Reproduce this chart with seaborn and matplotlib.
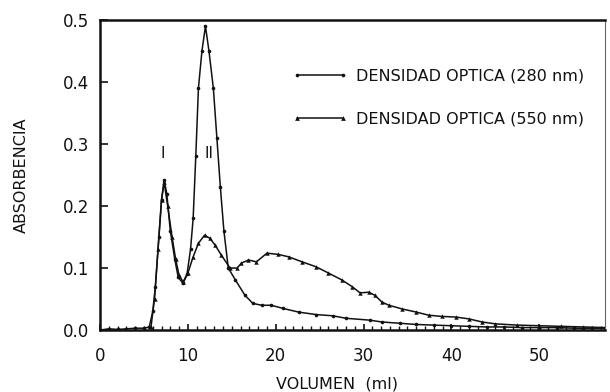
import matplotlib
matplotlib.use("Agg")
import matplotlib.pyplot as plt
import seaborn as sns
import pandas as pd
from matplotlib.lines import Line2D

# Elution profile: absorbance vs. eluted volume
vol_280 = [0, 1, 2, 3, 4, 5, 5.6, 6.0, 6.3, 6.7, 7.0, 7.3, 7.6, 8.0, 8.5, 8.9,
           9.4, 9.9, 10.3, 10.6, 10.9, 11.2, 11.6, 12.0, 12.4, 12.9, 13.3, 13.7,
           14.1, 14.6, 15.4, 16.5, 17.4, 18.4, 19.5, 20.8, 22.6, 24.6, 26.5,
           28.0, 30.7, 32.1, 34.1, 36.0, 38.0, 40.0, 42.0, 44.0, 46.0, 48.0,
           50.0, 52.0, 54.0, 56.0, 57.5]
abs_280 = [0.0, 0.002, 0.001, 0.002, 0.003, 0.003, 0.005, 0.03, 0.07, 0.15, 0.21,
           0.242, 0.22, 0.16, 0.115, 0.085, 0.076, 0.09, 0.13, 0.18, 0.28, 0.39,
           0.45, 0.49, 0.45, 0.39, 0.31, 0.23, 0.16, 0.10, 0.081, 0.056, 0.043,
           0.04, 0.04, 0.035, 0.029, 0.025, 0.023, 0.019, 0.016, 0.013, 0.011,
           0.009, 0.008, 0.007, 0.006, 0.005, 0.005, 0.004, 0.004, 0.004, 0.003,
           0.003, 0.003]

vol_550 = [5.8, 6.2, 6.6, 7.0, 7.3, 7.7, 8.2, 8.6, 9.0, 9.5, 10.0, 10.6, 11.2,
           11.9, 12.5, 13.1, 13.8, 14.8, 15.6, 16.1, 16.9, 17.8, 19.0, 20.3,
           21.5, 23.0, 24.6, 26.0, 27.5, 28.7, 29.6, 30.6, 31.3, 32.1, 32.9,
           34.4, 36.0, 37.4, 38.9, 40.5, 42.0, 43.5, 45.0, 47.5, 50.0, 52.5,
           55.0, 57.5]
abs_550 = [0.005, 0.05, 0.13, 0.21, 0.238, 0.20, 0.15, 0.115, 0.088, 0.077,
           0.092, 0.118, 0.14, 0.153, 0.148, 0.137, 0.121, 0.10, 0.10, 0.108,
           0.113, 0.11, 0.124, 0.122, 0.118, 0.11, 0.102, 0.092, 0.081, 0.07,
           0.06, 0.061, 0.056, 0.045, 0.04, 0.034, 0.029, 0.024, 0.022, 0.021,
           0.018, 0.013, 0.01, 0.008, 0.007, 0.006, 0.005, 0.004]

label_280 = "DENSIDAD OPTICA (280 nm)"
label_550 = "DENSIDAD OPTICA (550 nm)"
x_ticks = [0, 10, 20, 30, 40, 50]
y_ticks = [0.0, 0.1, 0.2, 0.3, 0.4, 0.5]

df_280 = pd.DataFrame({"vol": vol_280, "abs": abs_280})
df_550 = pd.DataFrame({"vol": vol_550, "abs": abs_550})

sns.set_style("white")
plt.rcParams["font.family"] = ["DejaVu Sans"]

fig = plt.figure(figsize=(6.1, 3.92), dpi=100)
ax = fig.add_axes([0.164, 0.158, 0.828, 0.791])

ink = "#111111"
sns.lineplot(data=df_280, x="vol", y="abs", ax=ax, color=ink, linewidth=1.1,
             marker="o", markersize=2.6, markeredgewidth=0, estimator=None,
             sort=False)
sns.lineplot(data=df_550, x="vol", y="abs", ax=ax, color=ink, linewidth=1.1,
             marker="^", markersize=3.2, markeredgewidth=0, estimator=None,
             sort=False)

ax.set_xlim(0, 57.5)
ax.set_ylim(0, 0.5)
ax.set_xticks(x_ticks)
ax.set_yticks(y_ticks)
ax.set_xticklabels([str(v) for v in x_ticks])
ax.set_yticklabels([f"{v:.1f}" for v in y_ticks])
ax.set_xticks(range(0, 58), minor=True)

ax.tick_params(axis="both", which="major", direction="in", length=6,
               width=1.2, labelsize=12, colors=ink, bottom=True, left=True)
ax.tick_params(axis="y", which="major", pad=8)
ax.tick_params(axis="x", which="major", length=4, pad=12)
ax.tick_params(axis="x", which="minor", direction="in", length=3, width=1.0,
               colors=ink, bottom=True)

for side in ["left", "bottom", "top"]:
    ax.spines[side].set_linewidth(1.8)
    ax.spines[side].set_color(ink)
ax.spines["right"].set_linewidth(0.8)
ax.spines["right"].set_color("#666666")

ax.set_xlabel("VOLUMEN  (ml)", fontsize=11.5, color=ink)
ax.set_ylabel("ABSORBENCIA", fontsize=11.5, color=ink)
ax.xaxis.set_label_coords(0.47, -0.15)
ax.yaxis.set_label_coords(-0.14, 0.5)

ax.text(7.1, 0.285, "I", fontsize=11, color=ink, ha="center", va="center")
ax.text(12.4, 0.285, "II", fontsize=11, color=ink, ha="center", va="center")

handles = [
    Line2D([], [], color=ink, linewidth=1.1, marker="o", markersize=2.6,
           markeredgewidth=0),
    Line2D([], [], color=ink, linewidth=1.1, marker="^", markersize=3.4,
           markeredgewidth=0),
]
ax.legend(handles, [label_280, label_550], loc="upper left",
          bbox_to_anchor=(0.352, 0.89), frameon=False, numpoints=2,
          handlelength=3.5, handletextpad=0.5, labelspacing=1.75,
          fontsize=11.5, labelcolor=ink)

fig.savefig("out.png", dpi=100, facecolor="white")
